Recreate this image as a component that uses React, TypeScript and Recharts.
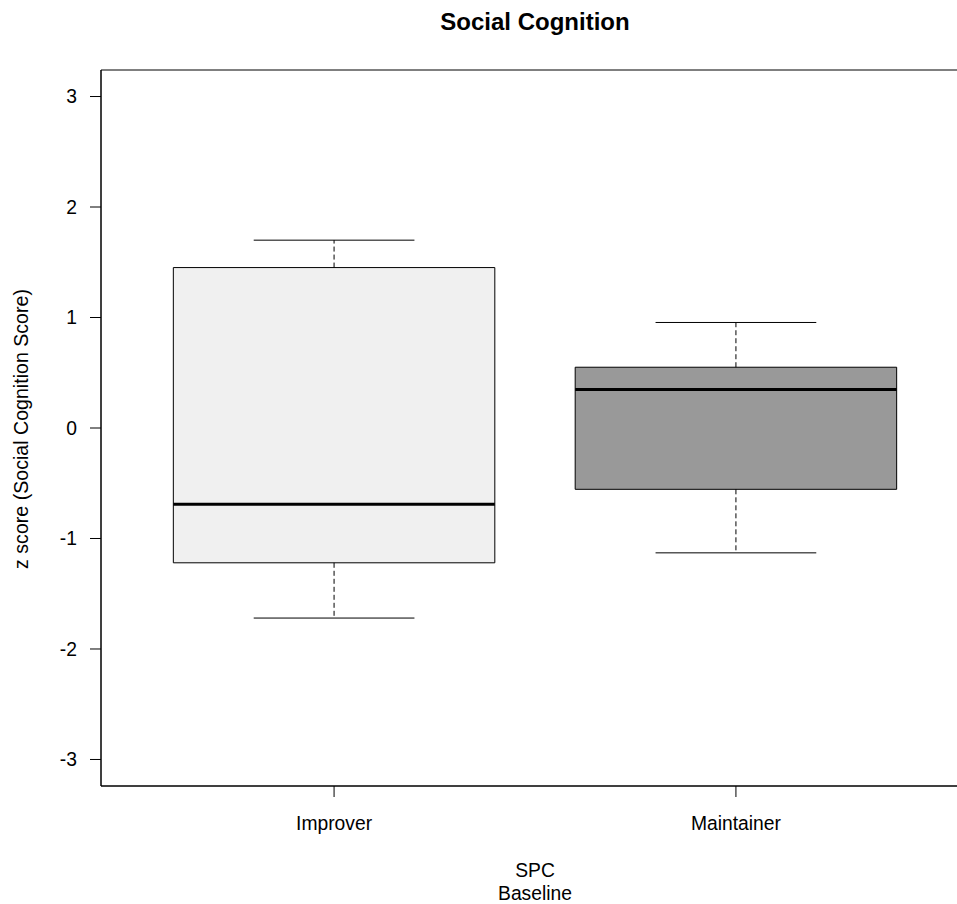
import React from 'react';
import { ComposedChart, XAxis, YAxis, Scatter, ReferenceArea, ReferenceLine } from 'recharts';

const groups = ['Improver', 'Maintainer'];
const positions = [1, 2];
const lowerWhisker = [-1.72, -1.13];
const q1 = [-1.22, -0.555];
const median = [-0.69, 0.348];
const q3 = [1.452, 0.55];
const upperWhisker = [1.70, 0.955];
const fills = ['#F0F0F0', '#999999'];
const yTicks = [-3, -2, -1, 0, 1, 2, 3];

const BOX_HALF = 0.4;
const CAP_HALF = 0.2;

const data = groups.map((g, i) => ({ name: g, pos: positions[i], median: median[i] }));

const FONT = '"Liberation Sans", Arial, sans-serif';

export default function App() {
  return (
    <div style={{ position: 'absolute', left: 0, top: 0, width: 957, height: 904, overflow: 'hidden', background: '#fff' }}>
      <ComposedChart
        width={970}
        height={904}
        data={data}
        margin={{ top: 70, right: 1, bottom: 0, left: 0 }}
      >
        <XAxis
          dataKey="pos"
          type="number"
          domain={[0.42, 2.58]}
          ticks={positions}
          allowDataOverflow
          tickFormatter={(v: number) => groups[positions.indexOf(v)] ?? ''}
          axisLine={{ stroke: '#000', strokeWidth: 1 }}
          tickLine={{ stroke: '#000', strokeWidth: 1 }}
          tickSize={11}
          tickMargin={19}
          tick={{ fill: '#000', fontSize: 19.3, fontFamily: FONT }}
          height={118}
        />
        <YAxis
          type="number"
          domain={[-3.24, 3.24]}
          ticks={yTicks}
          allowDataOverflow
          axisLine={{ stroke: '#000', strokeWidth: 1 }}
          tickLine={{ stroke: '#000', strokeWidth: 1 }}
          tickSize={11}
          tickMargin={13}
          tick={{ fill: '#000', fontSize: 19.3, fontFamily: FONT }}
          width={101}
        />
        <Scatter dataKey="median" isAnimationActive={false} shape={() => <g />} />
        <ReferenceArea x1={0.42} x2={2.58} y1={-3.24} y2={3.24} fill="none" fillOpacity={0} stroke="#000" strokeWidth={1} ifOverflow="visible" />
        {groups.map((g, i) => (
          <ReferenceLine
            key={`uw-${g}`}
            segment={[{ x: positions[i], y: q3[i] }, { x: positions[i], y: upperWhisker[i] }]}
            stroke="#000"
            strokeWidth={1}
            strokeDasharray="5 3"
          />
        ))}
        {groups.map((g, i) => (
          <ReferenceLine
            key={`lw-${g}`}
            segment={[{ x: positions[i], y: q1[i] }, { x: positions[i], y: lowerWhisker[i] }]}
            stroke="#000"
            strokeWidth={1}
            strokeDasharray="5 3"
          />
        ))}
        {groups.map((g, i) => (
          <ReferenceLine
            key={`uc-${g}`}
            segment={[{ x: positions[i] - CAP_HALF, y: upperWhisker[i] }, { x: positions[i] + CAP_HALF, y: upperWhisker[i] }]}
            stroke="#000"
            strokeWidth={1}
          />
        ))}
        {groups.map((g, i) => (
          <ReferenceLine
            key={`lc-${g}`}
            segment={[{ x: positions[i] - CAP_HALF, y: lowerWhisker[i] }, { x: positions[i] + CAP_HALF, y: lowerWhisker[i] }]}
            stroke="#000"
            strokeWidth={1}
          />
        ))}
        {groups.map((g, i) => (
          <ReferenceArea
            key={`box-${g}`}
            x1={positions[i] - BOX_HALF}
            x2={positions[i] + BOX_HALF}
            y1={q1[i]}
            y2={q3[i]}
            fill={fills[i]}
            fillOpacity={1}
            stroke="#000"
            strokeWidth={1}
          />
        ))}
        {groups.map((g, i) => (
          <ReferenceLine
            key={`med-${g}`}
            segment={[{ x: positions[i] - BOX_HALF, y: median[i] }, { x: positions[i] + BOX_HALF, y: median[i] }]}
            stroke="#000"
            strokeWidth={3}
          />
        ))}
      </ComposedChart>
      <svg width={957} height={904} style={{ position: 'absolute', left: 0, top: 0, pointerEvents: 'none' }}>
        <text x={535} y={29.5} textAnchor="middle" fontFamily={FONT} fontWeight="bold" fontSize={24} fill="#000">Social Cognition</text>
        <text x={28} y={429} textAnchor="middle" fontFamily={FONT} fontSize={19.6} fill="#000" transform="rotate(-90 28 429)">z score (Social Cognition Score)</text>
        <text x={535} y={877} textAnchor="middle" fontFamily={FONT} fontSize={19.3} fill="#000">SPC</text>
        <text x={535} y={899.5} textAnchor="middle" fontFamily={FONT} fontSize={19.3} fill="#000">Baseline</text>
      </svg>
    </div>
  );
}
